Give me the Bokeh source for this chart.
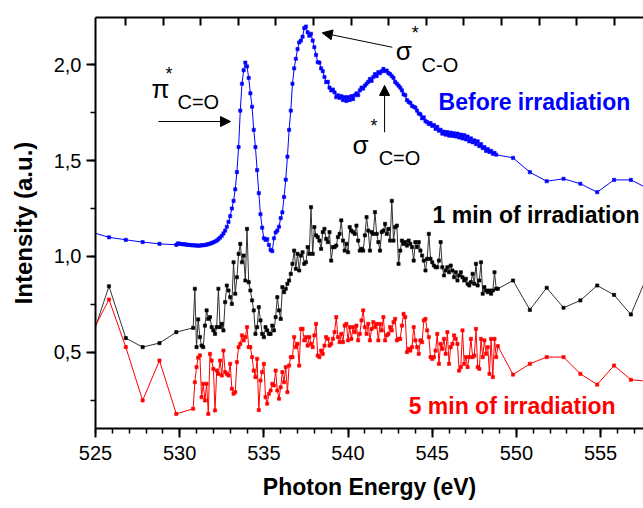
from bokeh.plotting import figure
from bokeh.models import (LinearAxis, FixedTicker, SingleIntervalTicker, Label,
                          Arrow, NormalHead, CustomJSTickFormatter, Range1d)
from bokeh.embed import file_html
from bokeh.resources import INLINE

FONT = "Liberation Sans"

# ---------------- data (photon energy in eV, intensity in a.u.) ----------------
# sparse points before the dense scan
pre_energy_blue = [524.8, 525.8, 526.8, 527.8, 528.8, 529.8]
pre_blue = [1.126, 1.100, 1.087, 1.075, 1.066, 1.061]
pre_energy_irr = [524.8, 525.8, 526.8, 527.8, 528.8, 529.8, 530.8]
pre_black = [0.580, 0.845, 0.575, 0.528, 0.549, 0.606, 0.628]
pre_red = [0.606, 0.776, 0.528, 0.250, 0.458, 0.180, 0.207]

# sparse points after the dense scan
post_energy = [549.8, 550.8, 551.8, 552.8, 553.8, 554.8, 555.8, 556.8, 557.8]
post_blue = [1.514, 1.439, 1.392, 1.405, 1.379, 1.335, 1.399, 1.399, 1.355]
post_black = [0.875, 0.722, 0.837, 0.733, 0.771, 0.849, 0.800, 0.698, 0.905]
post_red = [0.385, 0.441, 0.476, 0.476, 0.389, 0.333, 0.432, 0.358, 0.350]

# dense scans (0.1 eV steps)
dense_start_blue = 529.9
dense_blue = [
    1.068, 1.066, 1.065, 1.064, 1.063, 1.062, 1.061, 1.060, 1.059, 1.058,
    1.058, 1.057, 1.057, 1.057, 1.058, 1.059, 1.060, 1.062, 1.064, 1.067,
    1.070, 1.074, 1.078, 1.083, 1.090, 1.098, 1.108, 1.120, 1.135, 1.155,
    1.180, 1.210, 1.250, 1.290, 1.350, 1.440, 1.570, 1.760, 1.900, 1.970,
    2.010, 1.990, 1.930, 1.850, 1.780, 1.660, 1.570, 1.450, 1.330, 1.220,
    1.150, 1.095, 1.087, 1.090, 1.060, 1.035, 1.028, 1.095, 1.125, 1.135,
    1.155, 1.200, 1.230, 1.310, 1.400, 1.520, 1.660, 1.760, 1.900, 1.980,
    2.030, 2.080, 2.115, 2.125, 2.145, 2.190, 2.198, 2.168, 2.150, 2.160,
    2.125, 2.090, 2.050, 2.012, 2.010, 1.980, 1.965, 1.935, 1.908, 1.910,
    1.880, 1.865, 1.870, 1.855, 1.830, 1.840, 1.826, 1.835, 1.815, 1.830,
    1.810, 1.830, 1.815, 1.835, 1.820, 1.840, 1.850, 1.840, 1.865, 1.880,
    1.875, 1.890, 1.900, 1.910, 1.925, 1.915, 1.935, 1.950, 1.940, 1.960,
    1.955, 1.965, 1.977, 1.965, 1.969, 1.955, 1.950, 1.940, 1.930, 1.910,
    1.900, 1.890, 1.880, 1.865, 1.845, 1.840, 1.815, 1.805, 1.800, 1.785,
    1.780, 1.775, 1.760, 1.745, 1.740, 1.720, 1.725, 1.705, 1.700, 1.690,
    1.695, 1.680, 1.685, 1.665, 1.675, 1.655, 1.660, 1.640, 1.650, 1.635,
    1.648, 1.630, 1.645, 1.628, 1.642, 1.625, 1.640, 1.620, 1.635, 1.615,
    1.632, 1.610, 1.625, 1.600, 1.615, 1.595, 1.605, 1.585, 1.600, 1.575,
    1.585, 1.565, 1.570, 1.550, 1.560, 1.545, 1.550, 1.535, 1.540, 1.530,
]

dense_start_irr = 530.9
dense_black = [
    0.832, 0.528, 0.672,
    0.580, 0.536, 0.528, 0.640, 0.719, 0.675, 0.684, 0.632, 0.615, 0.597,
    0.632, 0.832, 0.632, 0.649, 0.615, 0.762, 0.849, 0.823, 0.788, 0.753,
    0.970, 0.806, 0.892, 1.014, 1.066, 0.970, 1.005, 0.875, 1.144, 0.866,
    0.823, 0.771, 0.719, 0.597, 0.632, 0.736, 0.667, 0.597, 0.580, 0.632,
    0.615, 0.597, 0.597, 0.640, 0.615, 0.684, 0.788, 0.719, 0.675, 0.840,
    0.814, 0.832, 0.858, 0.875, 0.910, 0.962, 1.031, 0.936, 1.014, 0.927,
    1.005, 1.022, 0.962, 0.970, 1.049, 1.014, 1.257, 1.014, 1.153, 1.110,
    1.101, 1.083, 1.040, 1.127, 1.144, 1.092, 1.075, 1.127, 0.979, 1.049,
    1.049, 1.057, 1.101, 1.118, 1.188, 1.083, 1.031, 1.066, 1.022, 1.153,
    1.135, 1.127, 1.118, 1.161, 1.083, 1.031, 1.040, 1.031, 1.110, 1.205,
    1.135, 1.031, 1.127, 1.118, 1.231, 1.118, 1.075, 1.031, 1.127, 1.135,
    1.170, 1.118, 1.144, 1.083, 1.290, 1.083, 1.153, 1.161, 0.962, 1.031,
    1.083, 1.066, 1.075, 1.057, 1.083, 1.066, 1.049, 0.979, 1.075, 1.049,
    1.075, 1.031,
    1.005, 0.979, 0.927, 0.988, 1.118, 0.988, 0.970, 0.953, 0.944, 0.944,
    0.979, 1.075, 0.944, 0.901, 0.927, 0.944, 0.918, 0.953, 0.927, 0.892,
    0.918, 0.875, 0.901, 0.918, 0.892, 0.875, 0.884, 0.858, 0.849, 0.866,
    0.910, 0.858, 0.962, 0.849, 0.875, 0.970, 0.806, 0.840, 0.823, 0.814,
    0.823, 0.806, 0.823, 0.918, 0.832, 0.832,
]
dense_red = [
    0.345, 0.424, 0.473, 0.485,
    0.267, 0.337, 0.250, 0.337, 0.180, 0.493, 0.458, 0.415, 0.198, 0.406,
    0.389, 0.458, 0.380, 0.510, 0.398, 0.389, 0.380, 0.441, 0.311, 0.285,
    0.293, 0.450, 0.528, 0.545, 0.589, 0.563, 0.580, 0.632, 0.528, 0.528,
    0.476, 0.406, 0.372, 0.467, 0.200, 0.354, 0.398, 0.441, 0.267, 0.233,
    0.285, 0.302, 0.337, 0.328, 0.406, 0.302, 0.259, 0.319, 0.398, 0.345,
    0.424, 0.293, 0.432, 0.476, 0.476, 0.580, 0.528, 0.545, 0.432, 0.623,
    0.623, 0.563, 0.580, 0.536, 0.580, 0.545, 0.528, 0.589, 0.649, 0.484,
    0.476, 0.510, 0.493, 0.536, 0.580, 0.571, 0.536, 0.545, 0.571, 0.606,
    0.684, 0.580, 0.554, 0.597, 0.554, 0.640, 0.649, 0.563, 0.632, 0.571,
    0.632, 0.606, 0.640, 0.563, 0.597, 0.667, 0.719, 0.632, 0.597, 0.649,
    0.563, 0.623, 0.658, 0.632, 0.649, 0.563, 0.649, 0.615, 0.684, 0.563,
    0.589, 0.597, 0.632, 0.615, 0.658, 0.675, 0.563, 0.571, 0.571, 0.640,
    0.701, 0.684, 0.502, 0.519, 0.510, 0.528, 0.632, 0.563, 0.528, 0.493,
    0.563,
    0.554, 0.667, 0.675, 0.615, 0.580, 0.476, 0.467, 0.476, 0.510, 0.597,
    0.441, 0.545, 0.519, 0.571, 0.493, 0.606, 0.441, 0.528, 0.545, 0.589,
    0.571, 0.545, 0.406, 0.424, 0.615, 0.441, 0.476, 0.424, 0.476, 0.571,
    0.476, 0.484, 0.623, 0.424, 0.415, 0.571, 0.476, 0.563, 0.493, 0.528,
    0.389, 0.571, 0.372, 0.571, 0.476, 0.533,
]

x_ticks_major = 5
y_ticks_major = 0.5


def grid(start, values):
    return [round(start + 0.1 * i, 2) for i in range(len(values))]


blue_E = pre_energy_blue + grid(dense_start_blue, dense_blue) + post_energy
blue_I = pre_blue + dense_blue + post_blue
black_E = pre_energy_irr + grid(dense_start_irr, dense_black) + post_energy
black_I = pre_black + dense_black + post_black
red_E = pre_energy_irr + grid(dense_start_irr, dense_red) + post_energy
red_I = pre_red + dense_red + post_red

# ---------------- figure ----------------
p = figure(width=643, height=508, x_range=Range1d(525, 557.55),
           y_range=Range1d(0.104, 2.245), output_backend="svg",
           toolbar_location=None, min_border_left=95, min_border_right=0,
           min_border_top=17, min_border_bottom=80)
p.outline_line_color = None
p.grid.visible = False
p.background_fill_color = "white"
p.border_fill_color = "white"

xa = p.xaxis[0]
xa.ticker = SingleIntervalTicker(interval=x_ticks_major, num_minor_ticks=5)
ya = p.yaxis[0]
ya.ticker = SingleIntervalTicker(interval=y_ticks_major, num_minor_ticks=2)
ya.formatter = CustomJSTickFormatter(code="return tick.toFixed(1).replace('.', ',');")

for ax in (xa, ya):
    ax.axis_line_width = 2
    ax.axis_line_color = "black"
    ax.major_tick_line_width = 2
    ax.minor_tick_line_width = 1.5
    ax.major_tick_out = 9
    ax.major_tick_in = 0
    ax.minor_tick_out = 5
    ax.minor_tick_in = 0
    ax.major_label_text_font = FONT
    ax.major_label_text_font_size = "20px"
    ax.major_label_text_color = "black"
    ax.axis_label_text_font = FONT
    ax.axis_label_text_font_style = "bold"
    ax.axis_label_text_color = "black"

xa.axis_label = "Photon Energy (eV)"
xa.axis_label_text_font_size = "23px"
xa.major_label_standoff = 8
xa.axis_label_standoff = 11
ya.axis_label = "Intensity (a.u.)"
ya.axis_label_text_font_size = "24px"
ya.major_label_standoff = 5
ya.axis_label_standoff = 14

top_ticks = [526.78 + 2.233 * k for k in range(14)]
top = LinearAxis(ticker=FixedTicker(ticks=top_ticks, minor_ticks=[]),
                 formatter=CustomJSTickFormatter(code="return '';"),
                 major_label_text_font_size="1px", major_label_standoff=0,
                 major_tick_in=8, major_tick_out=0, major_tick_line_width=2,
                 axis_line_width=2, axis_line_color="black")
p.add_layout(top, "above")

# ---------------- series ----------------
series = [
    (black_E, black_I, "#000000", "#333333"),
    (red_E, red_I, "#ff0000", "#ff0000"),
    (blue_E, blue_I, "#0000ff", "#0000ff"),
]
for E, I, mcol, lcol in series:
    p.line(E, I, line_color=lcol, line_width=1)
    p.scatter(E, I, marker="square", size=3.2, fill_color=mcol, line_color=mcol,
              line_width=0.6)

# ---------------- annotations ----------------
LIFT = 0.035  # baseline correction


def lab(x, y, text, size, color="black", bold=False):
    p.add_layout(Label(x=x, y=y + LIFT, text=text, text_font=FONT, text_font_size=size,
                       text_color=color, text_baseline="alphabetic", text_align="left",
                       text_font_style="bold" if bold else "normal"))


lab(528.33, 1.839, "π", "26px")
lab(529.16, 1.917, "*", "18px")
lab(529.87, 1.771, "C=O", "20px")

lab(542.83, 2.036, "σ", "26px")
lab(543.78, 2.130, "*", "18px")
lab(544.37, 1.964, "C-O", "20px")

lab(540.27, 1.547, "σ", "26px")
lab(541.34, 1.646, "*", "18px")
lab(541.82, 1.479, "C=O", "20px")

lab(545.38, 1.771, "Before irradiation", "23px", "#0000ff", True)
lab(545.02, 1.182, "1 min of irradiation", "23px", "#000000", True)
lab(543.60, 0.1875, "5 min of irradiation", "23px", "#ff0000", True)


def arrow(x0, y0, x1, y1):
    p.add_layout(Arrow(end=NormalHead(size=10, fill_color="black", line_color="black"),
                       x_start=x0, y_start=y0, x_end=x1, y_end=y1,
                       line_color="black", line_width=1))


arrow(528.74, 1.703, 533.02, 1.703)
arrow(542.63, 2.090, 538.47, 2.165)
arrow(542.17, 1.647, 542.17, 1.891)

open("out.html", "w").write(file_html(p, INLINE))
